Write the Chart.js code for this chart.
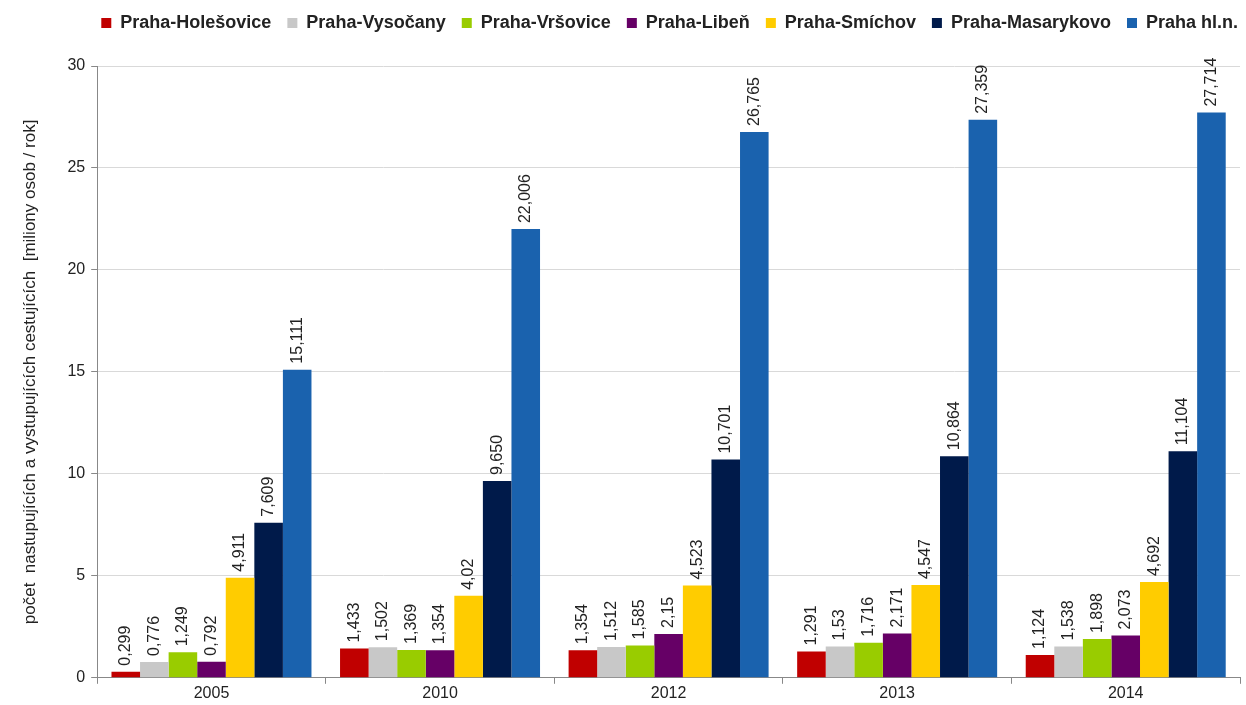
<!DOCTYPE html>
<html>
<head>
<meta charset="utf-8">
<script src="https://cdn.jsdelivr.net/npm/chart.js@4/dist/chart.umd.min.js"></script>
<style>
  html, body { margin: 0; padding: 0; background: #fff; }
  #wrap { width: 1246px; height: 705px; position: relative; }
</style>
</head>
<body>
<div id="wrap"><canvas id="chart"></canvas></div>
<script>
const years = ["2005", "2010", "2012", "2013", "2014"];

// values kept as text so the labels show the same decimals as the source
const holesovice = ["0.299", "1.433", "1.354", "1.291", "1.124"];
const vysocany = ["0.776", "1.502", "1.512", "1.53", "1.538"];
const vrsovice = ["1.249", "1.369", "1.585", "1.716", "1.898"];
const liben = ["0.792", "1.354", "2.15", "2.171", "2.073"];
const smichov = ["4.911", "4.02", "4.523", "4.547", "4.692"];
const masarykovo = ["7.609", "9.650", "10.701", "10.864", "11.104"];
const hlavni = ["15.111", "22.006", "26.765", "27.359", "27.714"];

const yTicks = [0, 5, 10, 15, 20, 25, 30];

const font = "'Liberation Sans', Arial, sans-serif";

const series = [
  ["Praha-Holešovice", holesovice, "#c00000"],
  ["Praha-Vysočany", vysocany, "#c8c8c8"],
  ["Praha-Vršovice", vrsovice, "#99cc00"],
  ["Praha-Libeň", liben, "#660066"],
  ["Praha-Smíchov", smichov, "#ffcc00"],
  ["Praha-Masarykovo", masarykovo, "#001a4a"],
  ["Praha hl.n.", hlavni, "#1a62ae"],
];

// rotated value labels above bars
const barLabels = {
  id: "barLabels",
  afterDatasetsDraw(chart) {
    const ctx = chart.ctx;
    ctx.save();
    ctx.font = "16px " + font;
    ctx.fillStyle = "#222";
    ctx.textAlign = "left";
    ctx.textBaseline = "middle";
    chart.data.datasets.forEach((ds, i) => {
      chart.getDatasetMeta(i).data.forEach((bar, j) => {
        const txt = String(ds.data[j]).replace(".", ",");
        ctx.save();
        ctx.translate(bar.x, bar.y - 6);
        ctx.rotate(-Math.PI / 2);
        ctx.fillText(txt, 0, 0);
        ctx.restore();
      });
    });
    ctx.restore();
  },
};

// extra room between legend and plot, legend pushed to the right edge
const legendSpace = {
  id: "legendSpace",
  beforeInit(chart) {
    const lg = chart.legend;
    const fit = lg.fit;
    lg.fit = function () {
      fit.call(this);
      this.height += 22;
    };
    const draw = lg.draw;
    lg.draw = function () {
      chart.ctx.save();
      chart.ctx.translate(14, -2);
      draw.call(this);
      chart.ctx.restore();
    };
  },
};

new Chart(document.getElementById("chart"), {
  type: "bar",
  data: {
    labels: years,
    datasets: series.map(([label, data, color]) => ({
      label: label,
      data: data,
      backgroundColor: color,
      borderWidth: 0,
      barPercentage: 1.0,
      categoryPercentage: 0.875,
    })),
  },
  options: {
    responsive: true,
    maintainAspectRatio: false,
    animation: false,
    layout: { padding: { left: 20, right: 6, top: 0, bottom: 2 } },
    plugins: {
      tooltip: { enabled: false },
      legend: {
        position: "top",
        align: "end",
        labels: {
          boxWidth: 10,
          boxHeight: 10,
          padding: 16,
          color: "#222",
          font: { family: font, size: 18, weight: "bold" },
        },
      },
    },
    scales: {
      x: {
        grid: {
          drawOnChartArea: false,
          offset: true,
          tickLength: 6,
          color: "#888",
        },
        border: { color: "#888" },
        ticks: { color: "#222", font: { family: font, size: 16 }, padding: 0 },
      },
      y: {
        min: 0,
        max: 30,
        afterBuildTicks: (axis) => {
          axis.ticks = yTicks.map((v) => ({ value: v }));
        },
        grid: { color: "#d9d9d9", tickLength: 6, tickColor: "#888" },
        border: { color: "#888" },
        ticks: { color: "#222", font: { family: font, size: 16 }, padding: 6 },
        title: {
          display: true,
          text: "počet  nastupujících a vystupujících cestujících  [miliony osob / rok]",
          color: "#222",
          font: { family: font, size: 17 },
          padding: { top: 0, bottom: 21 },
        },
      },
    },
  },
  plugins: [barLabels, legendSpace],
});
</script>
</body>
</html>
